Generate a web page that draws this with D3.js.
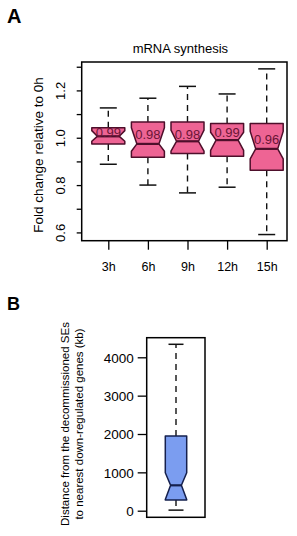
<!DOCTYPE html>
<html>
<head>
<meta charset="utf-8">
<script src="https://cdn.jsdelivr.net/npm/d3@7"></script>
<style>
  body { margin: 0; background: #fff; }
  svg { font-family: "Liberation Sans", Arial, sans-serif; display: block; }
</style>
</head>
<body>
<script>
const width = 297;
const height = 536;

// Panel A: mRNA synthesis, fold change vs 0h
const categories = ["3h", "6h", "9h", "12h", "15h"];
const whiskerLow = [0.888, 0.800, 0.767, 0.791, 0.591];
const q1 = [0.974, 0.918, 0.933, 0.922, 0.863];
const notchLow = [0.985, 0.943, 0.943, 0.947, 0.911];
const median = [1.006, 0.974, 0.985, 0.990, 0.953];
const notchHigh = [1.030, 1.042, 1.032, 1.023, 1.027];
const q3 = [1.042, 1.067, 1.067, 1.060, 1.060];
const whiskerHigh = [1.126, 1.167, 1.217, 1.185, 1.291];
const boxLabels = ["0.99", "0.98", "0.98", "0.99", "0.96"];
const ticksA = [0.6, 0.7, 0.8, 0.9, 1.0, 1.1, 1.2, 1.3];
const labelledA = [0.6, 0.8, 1.0, 1.2];

// Panel B: distance to nearest down-regulated genes
const statsB = { whiskerLow: 15, q1: 279, notchLow: 290, median: 662, notchHigh: 991, q3: 1949, whiskerHigh: 4339 };
const ticksB = [0, 1000, 2000, 3000, 4000];

const svg = d3.select("body").append("svg")
    .attr("width", width)
    .attr("height", height);

const pinkFill = "#ee6494";
const pinkLine = "#4e0f2b";
const blueFill = "#7b9df0";
const blueLine = "#15204d";

// notched box outline
function notchPath(cx, half, inset, y, s) {
    const L = cx - half, R = cx + half;
    return d3.line()([
        [L, y(s.q3)], [R, y(s.q3)], [R, y(s.nHi)], [R - inset, y(s.med)], [R, y(s.nLo)],
        [R, y(s.q1)], [L, y(s.q1)], [L, y(s.nLo)], [L + inset, y(s.med)], [L, y(s.nHi)]
    ]) + "Z";
}

function drawBox(g, cx, half, inset, capHalf, y, s, fill, line) {
    g.append("line")
        .attr("x1", cx).attr("x2", cx)
        .attr("y1", y(s.q3)).attr("y2", y(s.wHi))
        .attr("stroke", "#111").attr("stroke-width", 1.4)
        .attr("stroke-dasharray", "6,5");
    g.append("line")
        .attr("x1", cx).attr("x2", cx)
        .attr("y1", y(s.q1)).attr("y2", y(s.wLo))
        .attr("stroke", "#111").attr("stroke-width", 1.4)
        .attr("stroke-dasharray", "6,5");
    [s.wHi, s.wLo].forEach(v => {
        g.append("line")
            .attr("x1", cx - capHalf).attr("x2", cx + capHalf)
            .attr("y1", y(v)).attr("y2", y(v))
            .attr("stroke", "#111").attr("stroke-width", 1.5);
    });
    g.append("path")
        .attr("d", notchPath(cx, half, inset, y, s))
        .attr("fill", fill)
        .attr("stroke", line)
        .attr("stroke-width", 1.5)
        .attr("stroke-linejoin", "round");
    g.append("line")
        .attr("x1", cx - half + inset).attr("x2", cx + half - inset)
        .attr("y1", y(s.med)).attr("y2", y(s.med))
        .attr("stroke", line).attr("stroke-width", 2.2);
}

// ---------- Panel A ----------
const plotA = { left: 81.7, right: 287, top: 62, bottom: 240.7 };

const xA = d3.scalePoint()
    .domain(categories)
    .range([108.3, 266.7]);

const yA = d3.scaleLinear()
    .domain([0.565, 1.32])
    .range([plotA.bottom, plotA.top]);

svg.append("text")
    .attr("x", 7).attr("y", 23)
    .style("font-size", "20px").style("font-weight", "bold")
    .text("A");

svg.append("text")
    .attr("x", (plotA.left + plotA.right) / 2 - 4).attr("y", 53)
    .attr("text-anchor", "middle")
    .style("font-size", "13px")
    .text("mRNA synthesis");

const gA = svg.append("g");
categories.forEach((c, i) => {
    drawBox(gA, xA(c), 16.5, 5.5, 8.5, yA, {
        wLo: whiskerLow[i], q1: q1[i], nLo: notchLow[i], med: median[i],
        nHi: notchHigh[i], q3: q3[i], wHi: whiskerHigh[i]
    }, pinkFill, pinkLine);
    gA.append("text")
        .attr("x", xA(c)).attr("y", yA(+boxLabels[i]) - 3)
        .attr("text-anchor", "middle")
        .attr("fill", "#6a1436")
        .style("font-size", "13px")
        .text(boxLabels[i]);
});

svg.append("rect")
    .attr("x", plotA.left).attr("y", plotA.top)
    .attr("width", plotA.right - plotA.left)
    .attr("height", plotA.bottom - plotA.top)
    .attr("fill", "none").attr("stroke", "#000").attr("stroke-width", 1.5);

const yAxisA = svg.append("g")
    .attr("transform", `translate(${plotA.left},0)`)
    .call(d3.axisLeft(yA).tickValues(ticksA).tickSize(5).tickSizeOuter(0)
        .tickFormat(d => labelledA.some(v => Math.abs(v - d) < 1e-9) ? d3.format(".1f")(d) : ""));
yAxisA.select(".domain").remove();
yAxisA.selectAll(".tick line").attr("stroke", "#000").attr("stroke-width", 1.3);
yAxisA.selectAll(".tick text")
    .attr("transform", "rotate(-90)")
    .attr("x", 0).attr("y", -21.5).attr("dy", "0.35em")
    .attr("text-anchor", "middle")
    .attr("fill", "#000")
    .style("font-size", "13px")
    .style("font-family", "inherit");

const xAxisA = svg.append("g")
    .attr("transform", `translate(0,${plotA.bottom})`)
    .call(d3.axisBottom(xA).tickSize(9).tickSizeOuter(0));
xAxisA.select(".domain").remove();
xAxisA.selectAll(".tick line").attr("stroke", "#000").attr("stroke-width", 1.3);
xAxisA.selectAll(".tick text")
    .attr("y", 30.3).attr("dy", 0)
    .attr("fill", "#000")
    .style("font-size", "12.5px")
    .style("font-family", "inherit");

svg.append("text")
    .attr("transform", `translate(38.3,155) rotate(-90)`)
    .attr("dy", "0.35em")
    .attr("text-anchor", "middle")
    .style("font-size", "13.5px")
    .text("Fold change relative to 0h");

// ---------- Panel B ----------
const plotB = { left: 146.7, right: 205, top: 337.7, bottom: 517.3 };

const yB = d3.scaleLinear()
    .domain([-172, 4511])
    .range([plotB.bottom, plotB.top]);

svg.append("text")
    .attr("x", 7).attr("y", 310)
    .style("font-size", "18px").style("font-weight", "bold")
    .text("B");

const gB = svg.append("g");
drawBox(gB, 176, 10.7, 5.3, 7.5, yB, {
    wLo: statsB.whiskerLow, q1: statsB.q1, nLo: statsB.notchLow, med: statsB.median,
    nHi: statsB.notchHigh, q3: statsB.q3, wHi: statsB.whiskerHigh
}, blueFill, blueLine);

svg.append("rect")
    .attr("x", plotB.left).attr("y", plotB.top)
    .attr("width", plotB.right - plotB.left)
    .attr("height", plotB.bottom - plotB.top)
    .attr("fill", "none").attr("stroke", "#000").attr("stroke-width", 1.5);

const yAxisB = svg.append("g")
    .attr("transform", `translate(${plotB.left},0)`)
    .call(d3.axisLeft(yB).tickValues(ticksB).tickSize(9).tickSizeOuter(0).tickFormat(d3.format("d")));
yAxisB.select(".domain").remove();
yAxisB.selectAll(".tick line").attr("stroke", "#000").attr("stroke-width", 1.3);
yAxisB.selectAll(".tick text")
    .attr("x", -13).attr("dy", "0.36em")
    .attr("fill", "#000")
    .style("font-size", "13.5px")
    .style("font-family", "inherit");

const titleB = svg.append("text")
    .attr("transform", `translate(65,424) rotate(-90)`)
    .attr("text-anchor", "middle")
    .style("font-size", "11.5px");
titleB.append("tspan").attr("x", 0).attr("dy", "0.35em").text("Distance from the decommissioned SEs");
titleB.append("tspan").attr("x", 0).attr("dy", "1.2em").text("to nearest down-regulated genes (kb)");
</script>
</body>
</html>
